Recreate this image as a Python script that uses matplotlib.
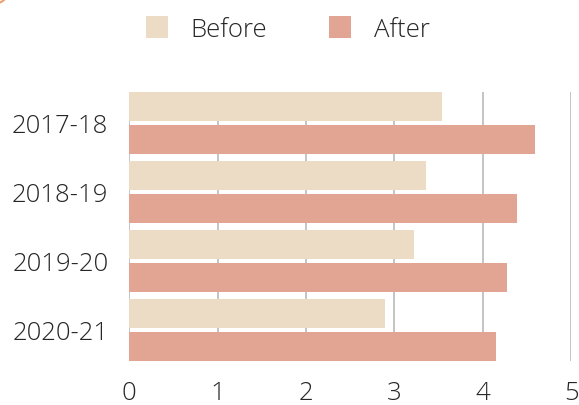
import matplotlib
matplotlib.use("Agg")
import matplotlib.pyplot as plt
import numpy as np
from matplotlib.patches import Patch, Circle

categories = ["2017-18", "2018-19", "2019-20", "2020-21"]
before = [3.54, 3.36, 3.22, 2.89]
after = [4.59, 4.39, 4.27, 4.15]
xticks = [0, 1, 2, 3, 4, 5]

c_before = "#ecdcc6"
c_after = "#e3a593"
txt = "#262626"

plt.rcParams['font.family'] = ['Open Sans', 'DejaVu Sans']

fig = plt.figure(figsize=(5.79, 4.06), dpi=100)
ax = fig.add_axes([0.2233, 0.1084, 0.9867 - 0.2233, 0.7717 - 0.1084])

y = np.arange(len(categories))
h = 0.42
off = 0.24
ax.barh(y - off, before, height=h, color=c_before, zorder=3)
ax.barh(y + off, after, height=h, color=c_after, zorder=3)

ax.set_xlim(0, 5)
ax.set_ylim(len(categories) - 1 + off + h / 2, -off - h / 2)
ax.set_xticks(xticks)
ax.set_xticklabels([str(t) for t in xticks])
ax.set_yticks(y)
ax.set_yticklabels(categories)
ax.tick_params(axis='both', length=0, labelsize=18.5, colors=txt)
ax.tick_params(axis='x', pad=14)
ax.tick_params(axis='y', pad=15)
for lab in ax.get_xticklabels() + ax.get_yticklabels():
    lab.set_fontweight(300)
for s in ax.spines.values():
    s.set_visible(False)
ax.grid(axis='x', color='#c4c4c4', linewidth=1.4, zorder=0)
ax.set_axisbelow(True)

handles = [Patch(facecolor=c_before, edgecolor='none', label="Before"),
           Patch(facecolor=c_after, edgecolor='none', label="After")]
leg = fig.legend(handles=handles, loc='center', bbox_to_anchor=(0.497, 1 - 30 / 406),
                 ncol=2, frameon=False, fontsize=18.5, handlelength=0.85,
                 handleheight=0.9, handletextpad=0.9, columnspacing=2.4)
for t in leg.get_texts():
    t.set_color(txt)
    t.set_fontweight(300)

fig.patches.append(Circle((-0.02, 1.02), 0.035, transform=fig.transFigure,
                          facecolor='none', edgecolor='#f0a070', linewidth=1.5))

fig.savefig("out.png", dpi=100)
